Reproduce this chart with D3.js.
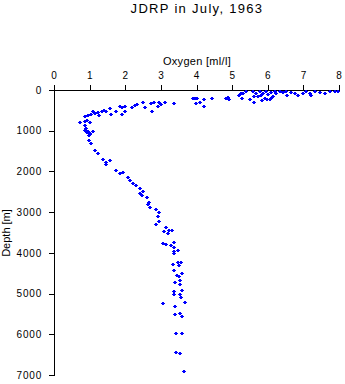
<!DOCTYPE html>
<html><head><meta charset="utf-8">
<script src="https://cdn.jsdelivr.net/npm/d3@7"></script>
<style>
body{margin:0;background:#fff;}
text{font-family:"Liberation Sans",Arial,Helvetica,sans-serif;fill:#000;}
</style></head><body>
<svg id="c" width="345" height="384"></svg>
<script>
const title = "JDRP in July, 1963";
const xLabel = "Oxygen [ml/l]";
const yLabel = "Depth [m]";
const xTicks = [0,1,2,3,4,5,6,7,8];
const yTicks = [0,1000,2000,3000,4000,5000,6000,7000];
const oxygen = [
 3.90,4.02,4.09,4.21,4.20,4.43,4.82,4.88,4.91,5.18,5.24,5.30,5.27,5.40,5.49,5.58,5.60,5.60,5.68,5.77,
 5.82,5.87,5.91,5.96,6.01,6.05,6.10,6.15,6.19,6.24,6.33,6.43,6.52,6.54,6.66,6.76,6.85,6.99,7.08,7.18,
 7.22,7.32,7.46,7.60,7.74,7.88,7.97,5.72,5.83,5.97,6.11,
 3.95,3.99,3.38,3.12,3.01,2.96,2.92,2.75,2.82,2.73,2.56,2.49,2.34,2.26,2.19,1.90,2.00,1.98,1.90,1.84,
 1.75,1.59,1.56,1.47,1.40,1.34,1.25,1.23,1.14,1.09,1.03,0.95,0.86,0.93,0.72,0.86,1.00,0.86,0.90,0.86,
 0.95,1.09,1.00,0.97,0.94,1.00,0.97,1.03,1.16,1.23,1.37,1.47,1.56,1.47,1.75,1.84,1.93,2.12,2.21,2.07,
 2.31,2.40,2.49,2.40,2.48,2.61,2.68,2.63,2.70,2.87,2.94,2.92,2.96,2.87,3.15,3.10,3.24,3.32,3.20,3.38,
 3.15,3.06,3.29,3.36,3.38,3.48,3.36,3.48,3.57,3.34,3.51,3.37,3.60,3.46,3.51,3.41,3.53,3.55,3.37,3.60,
 3.38,3.53,3.57,3.06,3.67,3.40,3.41,3.53,3.59,3.43,3.60,3.43,3.55,3.64
];
const depth = [
 204,204,295,221,400,204,204,165,228,130,81,66,189,17,214,25,147,295,81,25,
 130,66,189,25,106,214,49,147,25,81,25,49,17,130,49,81,130,81,25,66,
 130,25,49,81,25,25,25,147,246,221,160,
 204,312,319,295,344,295,400,509,295,319,425,295,344,376,425,590,509,400,425,400,
 509,590,442,509,484,523,607,541,565,523,590,607,646,730,794,769,794,853,934,975,
 1000,1000,1057,1113,1030,1080,1229,1310,1474,1555,1703,1762,1720,1818,1966,2032,2007,2211,2278,2130,
 2334,2415,2474,2523,2580,2636,2744,2801,2882,2924,3005,3088,3219,3300,3359,3464,3440,3440,3521,3742,
 3791,3767,3808,3850,3956,3931,4012,4219,4233,4283,4300,4423,4504,4545,4563,4710,4668,4774,4939,4914,
 5020,5005,5079,5226,5216,5300,5511,5486,5553,5963,5978,6437,6450,6912
];

const svg = d3.select("#c");
const x = d3.scaleLinear().domain([0,8]).range([54,339]);
const y = d3.scaleLinear().domain([0,7000]).range([90,375]);

svg.append("text").attr("x",197).attr("y",13).attr("text-anchor","middle")
  .style("font-size","13px").style("letter-spacing","1.3px").style("font-weight","300").text(title);

const gx = svg.append("g").attr("transform","translate(0,90)")
  .call(d3.axisTop(x).tickValues(xTicks).tickSizeOuter(0).tickSize(5).tickPadding(6).tickFormat(d3.format("d")));
const gy = svg.append("g").attr("transform","translate(54,0)")
  .call(d3.axisLeft(y).tickValues(yTicks).tickSizeOuter(0).tickSize(5).tickPadding(7).tickFormat(d3.format("d")));
[gx,gy].forEach(g=>{
  g.selectAll("text").style("font-size","10px").style("font-family","'Liberation Sans',Arial,sans-serif").style("letter-spacing","0.8px");
  g.selectAll("path,line").attr("stroke","#000").attr("shape-rendering","crispEdges");
});

svg.append("text").attr("x",197).attr("y",64.5).attr("text-anchor","middle")
  .style("font-size","11px").style("letter-spacing","0.3px").text(xLabel);
svg.append("text").attr("transform","translate(10,233) rotate(-90)").attr("text-anchor","middle")
  .style("font-size","11px").text(yLabel);

const pts = oxygen.map((o,i)=>({o, d:depth[i]}));
svg.append("g").selectAll("path").data(pts).join("path")
  .attr("transform",d=>`translate(${Math.round(x(d.o))},${Math.round(y(d.d))})`)
  .attr("d","M-2,-0.5h4v1h-4zM-1,-1.5h2v3h-2z")
  .attr("fill","#0000ff").attr("shape-rendering","crispEdges");
</script></body></html>
